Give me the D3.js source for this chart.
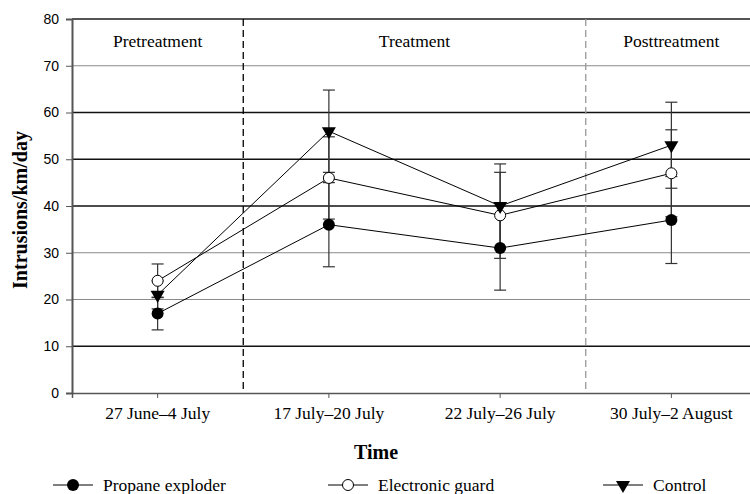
<!DOCTYPE html>
<meta charset="utf-8">
<style>
body{ margin:0; background:#fff; }
.tick text{ font-family:"Liberation Sans", Arial, sans-serif; font-size:14px; fill:#000; }
.xlab{ font-family:"Liberation Serif", "Times New Roman", serif; font-size:17.5px; text-anchor:middle; }
.period{ font-family:"Liberation Serif", "Times New Roman", serif; font-size:17.5px; text-anchor:middle; }
.title{ font-family:"Liberation Serif", "Times New Roman", serif; font-size:20px; font-weight:bold; text-anchor:middle; }
.legend text{ font-family:"Liberation Serif", "Times New Roman", serif; font-size:17.5px; }
</style>
<body>
<div id="chart"></div>
<script src="https://d3js.org/d3.v7.min.js"></script>
<script>
var categories = ["27 June\u20134 July", "17 July\u201320 July", "22 July\u201326 July", "30 July\u20132 August"];
var periods = ["Pretreatment", "Treatment", "Posttreatment"];
var periodStart = [0, 1, 3];
var periodEnd = [0, 2, 3];
var yTicks = [0, 10, 20, 30, 40, 50, 60, 70, 80];

var seriesNames = ["Propane exploder", "Electronic guard", "Control"];
var propane = [17, 36, 31, 37];
var propaneErr = [3.5, 9, 9, 9.3];
var electronic = [24, 46, 38, 47];
var electronicErr = [3.6, 8.8, 9.2, 9.3];
var control = [21, 56, 40, 53];
var controlErr = [3, 8.8, 9, 9.2];

var series = [
  {name: seriesNames[0], values: propane, err: propaneErr, marker: "dot"},
  {name: seriesNames[1], values: electronic, err: electronicErr, marker: "ring"},
  {name: seriesNames[2], values: control, err: controlErr, marker: "tri"}
];

var W = 750, H = 494;
var svg = d3.select("#chart").append("svg").attr("width", W).attr("height", H);

var x = d3.scaleBand().domain(d3.range(categories.length)).range([72, 757]);
var y = d3.scaleLinear().domain([0, 80]).range([393, 19]);
var cx = function(i){ return x(i) + x.bandwidth() / 2; };

// gridlines (some print darker in the source)
var dark = [10, 40, 50, 60];
svg.append("g").selectAll("line")
  .data(yTicks.filter(function(t){ return t > 0 && t < 80; }))
  .join("line")
  .attr("x1", 72).attr("x2", W)
  .attr("y1", function(d){ return y(d); }).attr("y2", function(d){ return y(d); })
  .attr("stroke", function(d){ return dark.indexOf(d) >= 0 ? "#111" : "#8a8a8a"; })
  .attr("stroke-width", function(d){ return dark.indexOf(d) >= 0 ? 1.3 : 1; });

// top border
svg.append("line").attr("x1", 72).attr("x2", W).attr("y1", y(80)).attr("y2", y(80))
  .attr("stroke", "#555").attr("stroke-width", 2);

// period separators
svg.append("line").attr("x1", x(1)).attr("x2", x(1)).attr("y1", y(80)).attr("y2", y(0))
  .attr("stroke", "#000").attr("stroke-width", 1.3).attr("stroke-dasharray", "7,4");
svg.append("line").attr("x1", x(3)).attr("x2", x(3)).attr("y1", y(80)).attr("y2", y(0))
  .attr("stroke", "#999").attr("stroke-width", 1.3).attr("stroke-dasharray", "7,4");

periods.forEach(function(p, i){
  var mid = (x(periodStart[i]) + x(periodEnd[i]) + x.bandwidth()) / 2;
  svg.append("text").attr("class", "period").attr("x", mid).attr("y", 47).text(p);
});

// y axis
var yAxis = svg.append("g").attr("transform", "translate(72,0)")
  .call(d3.axisLeft(y).tickValues(yTicks).tickSize(6).tickPadding(7));
yAxis.select(".domain").attr("stroke", "#555").attr("stroke-width", 2);
yAxis.selectAll(".tick line").attr("stroke", "#555");

// x axis
var xAxis = svg.append("g").attr("transform", "translate(0," + y(0) + ")")
  .call(d3.axisBottom(x).tickSize(5).tickFormat(""));
xAxis.select(".domain").attr("stroke", "#555").attr("stroke-width", 1.5);
xAxis.selectAll(".tick line").attr("stroke", "#555");

svg.append("g").selectAll("text").data(categories).join("text")
  .attr("class", "xlab")
  .attr("x", function(d, i){ return cx(i); })
  .attr("y", 419)
  .text(function(d){ return d; });

// titles
svg.append("text").attr("class", "title").attr("x", 376).attr("y", 459).text("Time");
svg.append("text").attr("class", "title")
  .attr("transform", "translate(27," + (y(40) + 4) + ") rotate(-90)")
  .text("Intrusions/km/day");

// error bars
series.forEach(function(s){
  var g = svg.append("g").attr("stroke", "#333").attr("stroke-width", 1.2);
  s.values.forEach(function(v, i){
    var lo = y(v - s.err[i]), hi = y(v + s.err[i]), px = cx(i);
    g.append("line").attr("x1", px).attr("x2", px).attr("y1", lo).attr("y2", hi);
    g.append("line").attr("x1", px - 6).attr("x2", px + 6).attr("y1", lo).attr("y2", lo);
    g.append("line").attr("x1", px - 6).attr("x2", px + 6).attr("y1", hi).attr("y2", hi);
  });
});

// lines
var line = d3.line().x(function(d, i){ return cx(i); }).y(function(d){ return y(d); });
series.forEach(function(s){
  svg.append("path").attr("d", line(s.values))
    .attr("fill", "none").attr("stroke", "#000").attr("stroke-width", 1);
});

function drawMarker(g, type, px, py){
  if (type === "dot") {
    g.append("circle").attr("cx", px).attr("cy", py).attr("r", 6).attr("fill", "#000");
  } else if (type === "ring") {
    g.append("circle").attr("cx", px).attr("cy", py).attr("r", 5.5).attr("fill", "#fff")
      .attr("stroke", "#000").attr("stroke-width", 1);
  } else {
    g.append("path").attr("d", d3.symbol().type(d3.symbolTriangle).size(85))
      .attr("transform", "translate(" + px + "," + py + ") rotate(180)")
      .attr("fill", "#000");
  }
}

series.forEach(function(s){
  var g = svg.append("g");
  s.values.forEach(function(v, i){ drawMarker(g, s.marker, cx(i), y(v)); });
});

// legend
var legX = [53, 328, 603];
var leg = svg.append("g").attr("class", "legend");
series.forEach(function(s, i){
  var lx = legX[i], ly = 485;
  leg.append("line").attr("x1", lx).attr("x2", lx + 40).attr("y1", ly).attr("y2", ly)
    .attr("stroke", "#000").attr("stroke-width", 1.2);
  drawMarker(leg, s.marker, lx + 20, ly);
  leg.append("text").attr("x", lx + 50).attr("y", ly + 5.5).text(s.name);
});
</script>
</body>
</html>
